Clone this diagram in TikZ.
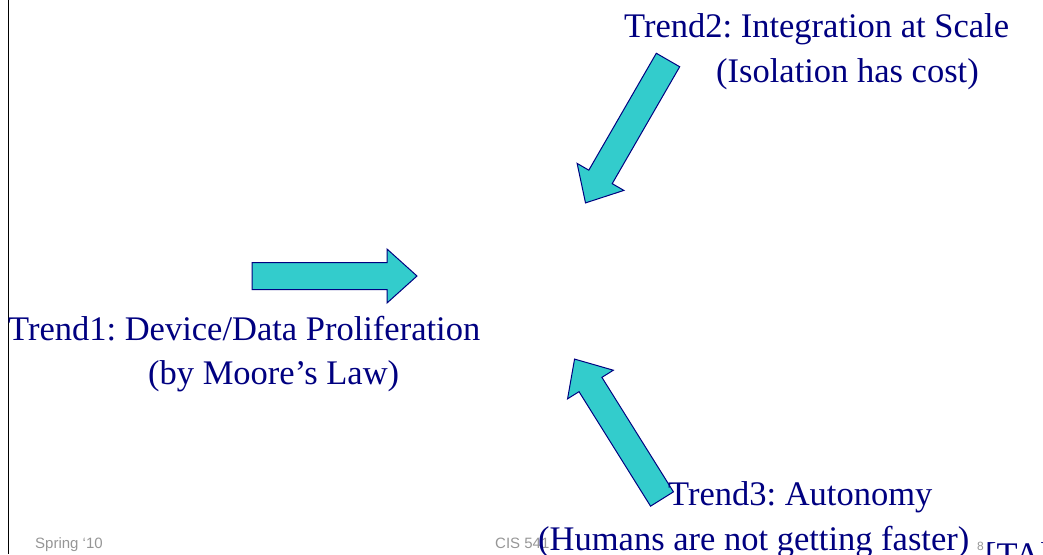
\documentclass[tikz,border=0pt]{standalone}
\usepackage{fontspec}
\setmainfont{Liberation Serif}
\newfontfamily\footfont{Liberation Sans}
\usetikzlibrary{positioning}
\frenchspacing

\definecolor{slidenavy}{RGB}{0,0,128}
\definecolor{arrowcyan}{RGB}{51,204,204}
\definecolor{footgray}{RGB}{150,150,150}

\tikzset{
  trend/.style={anchor=base west, inner sep=0pt, text=slidenavy, font=\fontsize{34.5}{41}\selectfont},
  foot/.style={anchor=base west, inner sep=0pt, text=footgray, font=\footfont\fontsize{15}{18}\selectfont},
  trendarrow/.pic={
    \draw[fill=arrowcyan, draw=slidenavy, line width=1pt, line join=miter]
      (0,-13.5) -- (135,-13.5) -- (135,-27) -- (165,0) -- (135,27) -- (135,13.5) -- (0,13.5) -- cycle;
  }
}

\begin{document}
\begin{tikzpicture}[x=1pt, y=-1pt]
  \useasboundingbox (0,0) rectangle (1043,554);
  \clip (0,0) rectangle (1043,554);
  \draw[line width=1pt] (8,0) -- (8,554);

  % footer
  \node[foot] (season) at (35,548) {Spring ‘10};
  \node[foot] (course) at (495,548) {CIS 541};
  \node[foot, font=\footfont\fontsize{12}{14}\selectfont] (page) at (977,550) {8};

  % the three arrows
  \pic at (252,276) {trendarrow};
  \pic[rotate=240] at (668,60) {trendarrow};
  \pic[rotate=122] at (662,499) {trendarrow};

  % trend labels
  \node[trend] (t1a) at (8,340) {Trend1: Device/Data Proliferation};
  \node[trend] (t1b) at (148,384) {(by Moore’s Law)};
  \node[trend] (t2a) at (624,37) {Trend2: Integration at Scale};
  \node[trend] (t2b) at (716,82) {(Isolation has cost)};
  \node[trend] (t3a) at (668,505) {Trend3: Autonomy};
  \node[trend] (t3b) at (538,550) {(Humans are not getting faster)};
  \node[trend] (cite) at (985,566) {[TA]};
\end{tikzpicture}
\end{document}
